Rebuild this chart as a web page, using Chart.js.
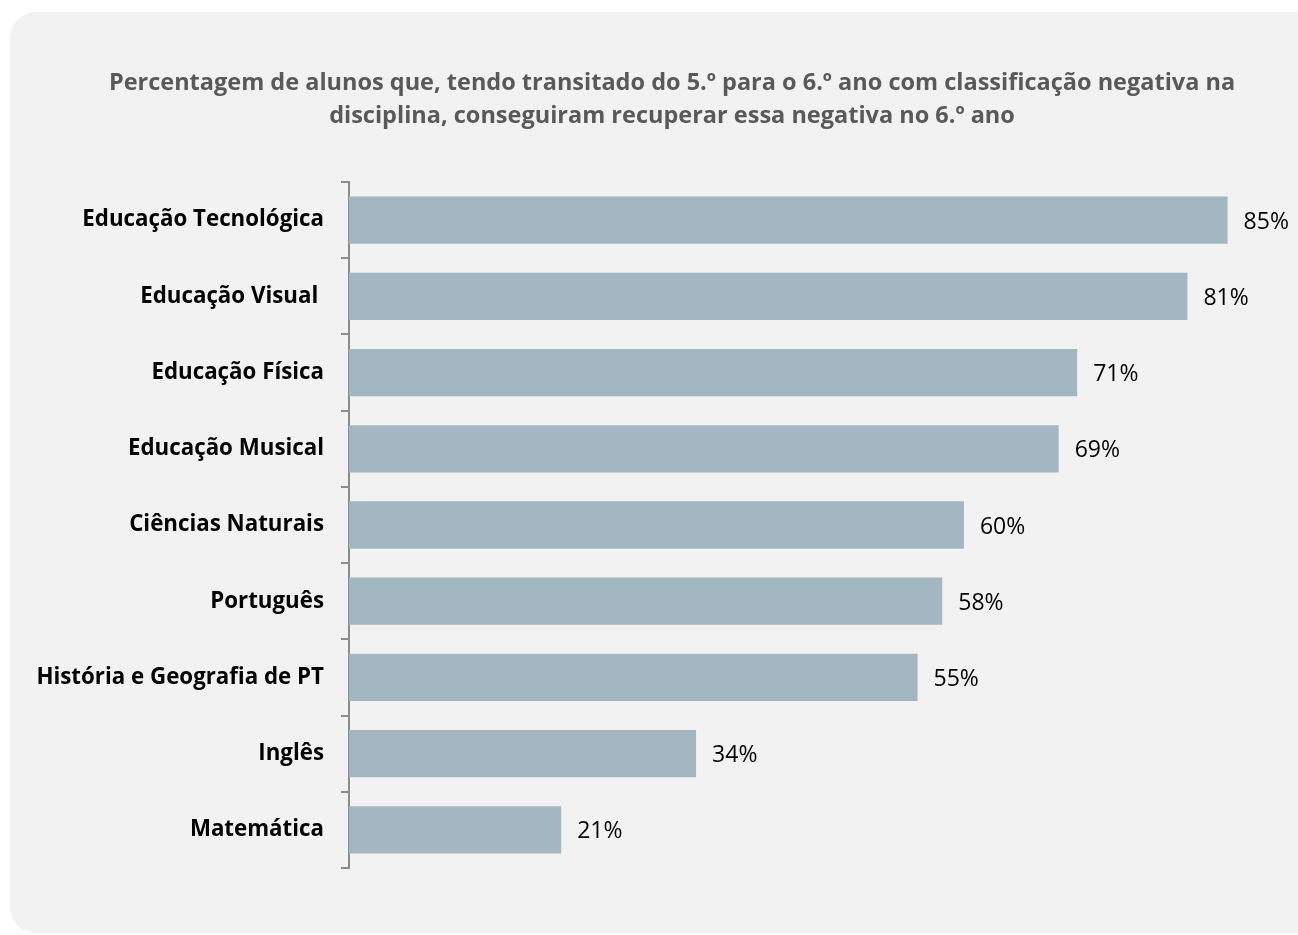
<!DOCTYPE html>
<html>
<head>
<meta charset="utf-8">
<script src="https://cdn.jsdelivr.net/npm/chart.js@4/dist/chart.umd.min.js"></script>
<style>
  html, body { margin: 0; padding: 0; background: #ffffff; overflow: hidden; }
  #panel { position: absolute; left: 10px; top: 12px; width: 1320px; height: 921px; background: #f2f2f2; border-radius: 26px; }
  #wrap { position: absolute; left: 0; top: 0; width: 1298px; height: 935px; }
</style>
</head>
<body>
<div id="panel"></div>
<div id="wrap"><canvas id="c" width="1298" height="935"></canvas></div>
<script>
const titleLines = [
  "Percentagem de alunos que, tendo transitado do 5.º para o 6.º ano com classificação negativa na",
  "disciplina, conseguiram recuperar essa negativa no 6.º ano"
];
const categories = [
  "Educação Tecnológica",
  "Educação Visual ",
  "Educação Física",
  "Educação Musical",
  "Ciências Naturais",
  "Português",
  "História e Geografia de PT",
  "Inglês",
  "Matemática"
];
const percentages = [85.3, 81.4, 70.7, 68.9, 59.7, 57.6, 55.2, 33.7, 20.6];

const FONT = "'Open Sans', 'DejaVu Sans', sans-serif";

const valueLabels = {
  id: 'valueLabels',
  afterDatasetsDraw(chart) {
    const ctx = chart.ctx;
    const meta = chart.getDatasetMeta(0);
    ctx.save();
    ctx.font = "23px " + FONT;
    ctx.fillStyle = "#000000";
    ctx.textAlign = "left";
    ctx.textBaseline = "middle";
    meta.data.forEach((bar, i) => {
      const v = chart.data.datasets[0].data[i];
      ctx.fillText(Math.round(v) + "%", bar.x + 16, bar.y + 2);
    });
    ctx.restore();
  }
};

const centeredTitle = {
  id: 'centeredTitle',
  afterDraw(chart) {
    const ctx = chart.ctx;
    ctx.save();
    ctx.font = "bold 23.5px " + FONT;
    ctx.fillStyle = "#595959";
    ctx.textAlign = "center";
    ctx.textBaseline = "middle";
    titleLines.forEach((line, i) => {
      ctx.fillText(line, 672, 83 + i * 33);
    });
    ctx.restore();
  }
};

new Chart(document.getElementById('c'), {
  type: 'bar',
  data: {
    labels: categories,
    datasets: [{
      data: percentages,
      backgroundColor: '#a2b7c1',
      borderWidth: 0,
      barPercentage: 0.62,
      categoryPercentage: 1.0
    }]
  },
  options: {
    indexAxis: 'y',
    responsive: false,
    animation: false,
    layout: { padding: { left: 0, right: 22, top: 182, bottom: 67 } },
    plugins: {
      legend: { display: false },
      tooltip: { enabled: false },
      title: { display: false }
    },
    scales: {
      x: {
        display: false,
        min: 0,
        max: 90
      },
      y: {
        afterFit(scale) { scale.width = 349; },
        grid: {
          display: true,
          drawOnChartArea: false,
          drawTicks: true,
          tickLength: 8,
          color: '#8c8c8c',
          lineWidth: 2,
          offset: true
        },
        border: { display: true, color: '#8c8c8c', width: 2 },
        ticks: {
          color: '#000000',
          font: { family: FONT, size: 22.3, weight: 'bold' },
          padding: 17
        }
      }
    }
  },
  plugins: [valueLabels, centeredTitle]
});
</script>
</body>
</html>
